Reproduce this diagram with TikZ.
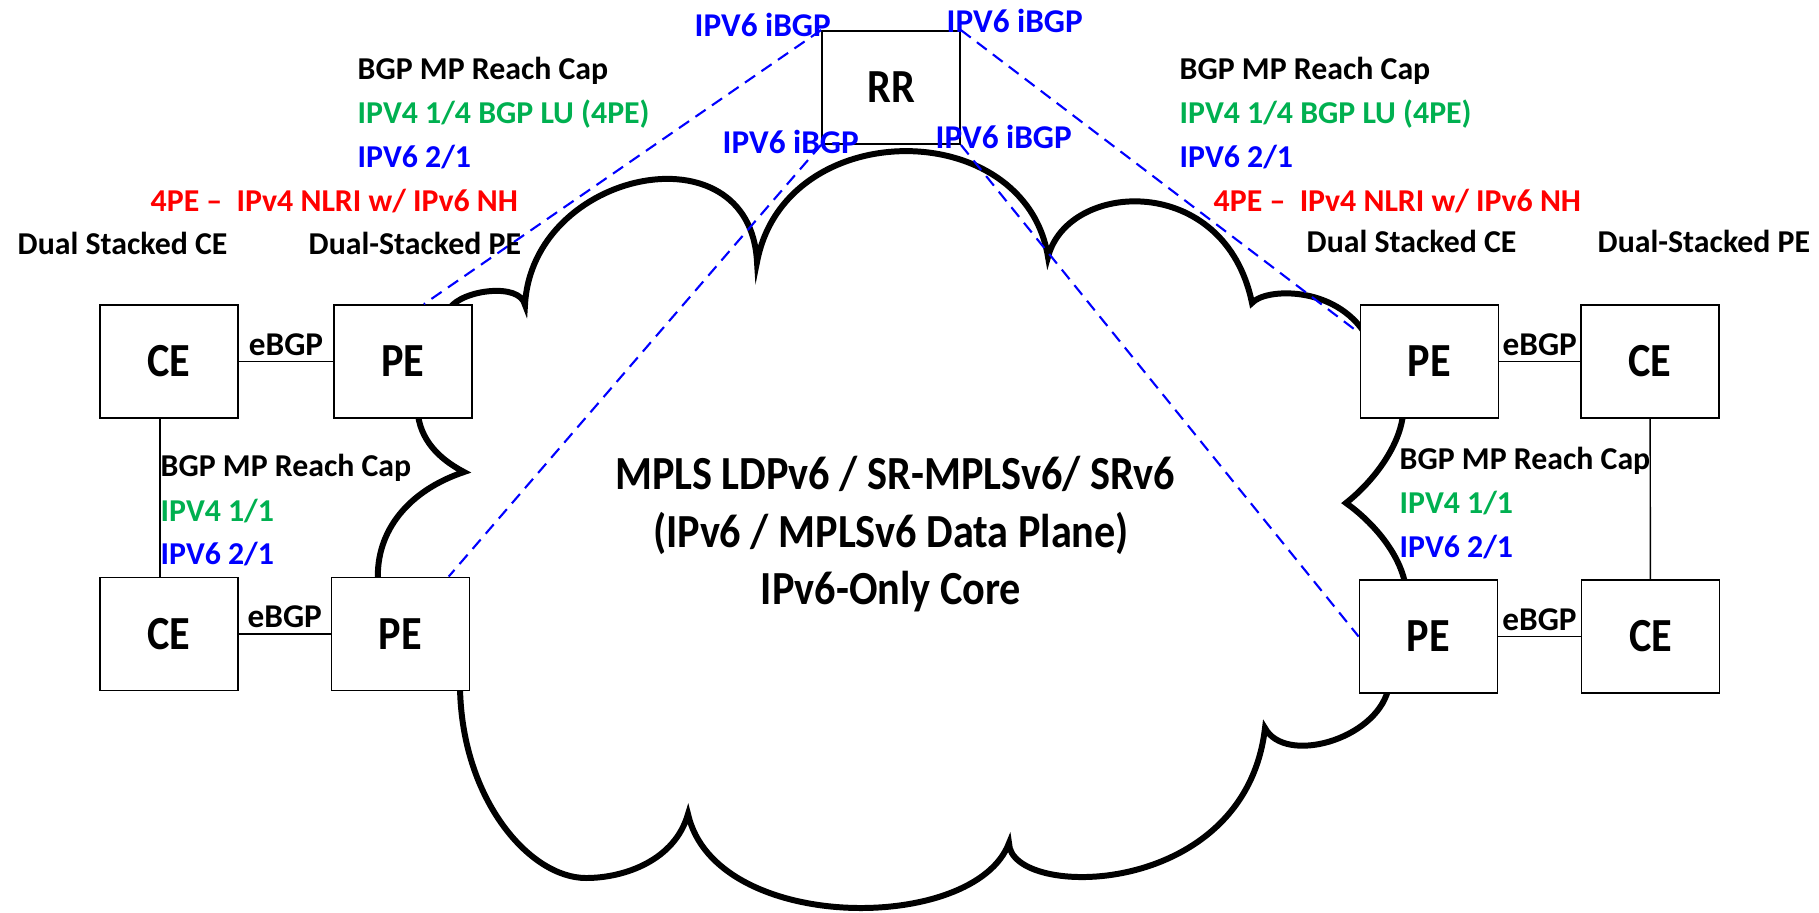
\documentclass[tikz,border=0pt]{standalone}
\usepackage{fontspec}
\setmainfont{Carlito}
\newfontfamily\corefont{Carlito}[FakeStretch=0.89]
\definecolor{ibgpblue}{RGB}{0,0,255}
\definecolor{lugreen}{RGB}{0,176,80}
\definecolor{nhred}{RGB}{255,0,0}

\begin{document}
\begin{tikzpicture}[x=0.01cm, y=-0.01cm,
        router/.style = {draw, line width = 0.5pt, fill = white, minimum width = 1.38cm, minimum height = 1.13cm, inner sep = 0pt, font = \corefont\fontsize{13.5}{16}\selectfont\bfseries},
        cloudline/.style = {line width = 1.7pt},
        link/.style = {line width = 0.4pt},
        ibgp/.style = {ibgpblue, line width = 0.6pt, dash pattern = on 3.5pt off 2.2pt},
        txt/.style = {inner sep = 0pt, anchor = base west, font = \fontsize{9.05}{11}\selectfont\bfseries},
        sesstxt/.style = {inner sep = 0pt, anchor = base west, font = \fontsize{9.45}{11}\selectfont\bfseries},
        bigtxt/.style = {inner sep = 0pt, anchor = base, font = \corefont\fontsize{13.5}{16}\selectfont\bfseries}
    ]
        \useasboundingbox (0,0) rectangle (1819,912);

        % the core cloud
        \draw[cloudline] (450,308) .. controls (462,290) and (520,282) .. (525,305)
            .. controls (532,170) and (750,125) .. (757,262)
            .. controls (785,115) and (1025,115) .. (1048,257)
            .. controls (1068,180) and (1225,172) .. (1252,303)
            .. controls (1265,288) and (1335,285) .. (1366,335)
            -- (1403,414)
            .. controls (1400,445) and (1375,480) .. (1346,503)
            .. controls (1370,520) and (1398,550) .. (1405,583)
            -- (1388,690)
            .. controls (1375,740) and (1285,765) .. (1265,728)
            .. controls (1245,900) and (1010,900) .. (1009,843)
            .. controls (975,934) and (715,934) .. (688,814)
            .. controls (675,860) and (625,878) .. (586,878)
            .. controls (530,878) and (462,800) .. (460,688)
            -- (378,582)
            .. controls (375,530) and (410,490) .. (464,472)
            .. controls (445,462) and (422,445) .. (418,415)
            -- cycle;

        \node[router] (rr) at (891,87.5) {RR};
        \node[router] (ce1) at (169,361.5) {CE};
        \node[router] (pe1) at (403,361.5) {PE};
        \node[router] (ce2) at (169,634) {CE};
        \node[router] (pe2) at (400.5,634) {PE};
        \node[router] (pe3) at (1429.5,361.5) {PE};
        \node[router] (ce3) at (1650,361.5) {CE};
        \node[router] (pe4) at (1428.5,636.5) {PE};
        \node[router] (ce4) at (1650.5,636.5) {CE};

        \draw[link] (ce1) -- node[sesstxt, above, inner sep = 1.5pt, anchor = south] (eb1) {eBGP} (pe1);
        \draw[link] (ce2) -- node[sesstxt, above, inner sep = 1.5pt, anchor = south] (eb2) {eBGP} (pe2);
        \draw[link] (pe3) -- node[sesstxt, above, inner sep = 1.5pt, anchor = south] (eb3) {eBGP} (ce3);
        \draw[link] (pe4) -- node[sesstxt, above, inner sep = 1.5pt, anchor = south] (eb4) {eBGP} (ce4);
        \draw[link] ([xshift = -0.09cm]ce1.south) -- ([xshift = -0.09cm]ce2.north);
        \draw[link] (ce3) -- (ce4);

        \draw[ibgp] (rr.north west) -- (pe1.70);
        \draw[ibgp] (rr.south west) -- (pe2.50);
        \draw[ibgp] (rr.north east) -- (pe3.158);
        \draw[ibgp] (rr.south east) -- (pe4.west);

        \node[sesstxt, ibgpblue] (ib1) at (694,37) {IPV6 iBGP};
        \node[sesstxt, ibgpblue] (ib2) at (722,153) {IPV6 iBGP};
        \node[sesstxt, ibgpblue] (ib3) at (946,32) {IPV6 iBGP};
        \node[sesstxt, ibgpblue] (ib4) at (935,148) {IPV6 iBGP};

        % left side labels
        \node[txt] (capL) at (357,79) {BGP MP Reach Cap};
        \node[txt, lugreen] (luL) at (357,123) {IPV4 1/4 BGP LU (4PE)};
        \node[txt, ibgpblue] (v6L) at (357,167) {IPV6 2/1};
        \node[txt, nhred] (nhL) at (150,211) {4PE –\ \ IPv4 NLRI w/ IPv6 NH};
        \node[txt] (dsceL) at (17,254) {Dual Stacked CE};
        \node[txt] (dspeL) at (308,254) {Dual-Stacked PE};
        \node[txt] (capLb) at (160,476) {BGP MP Reach Cap};
        \node[txt, lugreen] (v4Lb) at (160,521) {IPV4 1/1};
        \node[txt, ibgpblue] (v6Lb) at (160,564) {IPV6 2/1};

        % right side labels
        \node[txt] (capR) at (1179,79) {BGP MP Reach Cap};
        \node[txt, lugreen] (luR) at (1179,123) {IPV4 1/4 BGP LU (4PE)};
        \node[txt, ibgpblue] (v6R) at (1179,167) {IPV6 2/1};
        \node[txt, nhred] (nhR) at (1213,211) {4PE –\ \ IPv4 NLRI w/ IPv6 NH};
        \node[txt] (dsceR) at (1306,252) {Dual Stacked CE};
        \node[txt] (dspeR) at (1597,252) {Dual-Stacked PE};
        \node[txt] (capRb) at (1399,469) {BGP MP Reach Cap};
        \node[txt, lugreen] (v4Rb) at (1399,513) {IPV4 1/1};
        \node[txt, ibgpblue] (v6Rb) at (1399,557) {IPV6 2/1};

        \node[bigtxt] (core1) at (895,489) {MPLS LDPv6 / SR-MPLSv6/ SRv6};
        \node[bigtxt] (core2) at (891,547) {(IPv6 / MPLSv6 Data Plane)};
        \node[bigtxt] (core3) at (891,604) {IPv6-Only Core};
    \end{tikzpicture}
\end{document}
